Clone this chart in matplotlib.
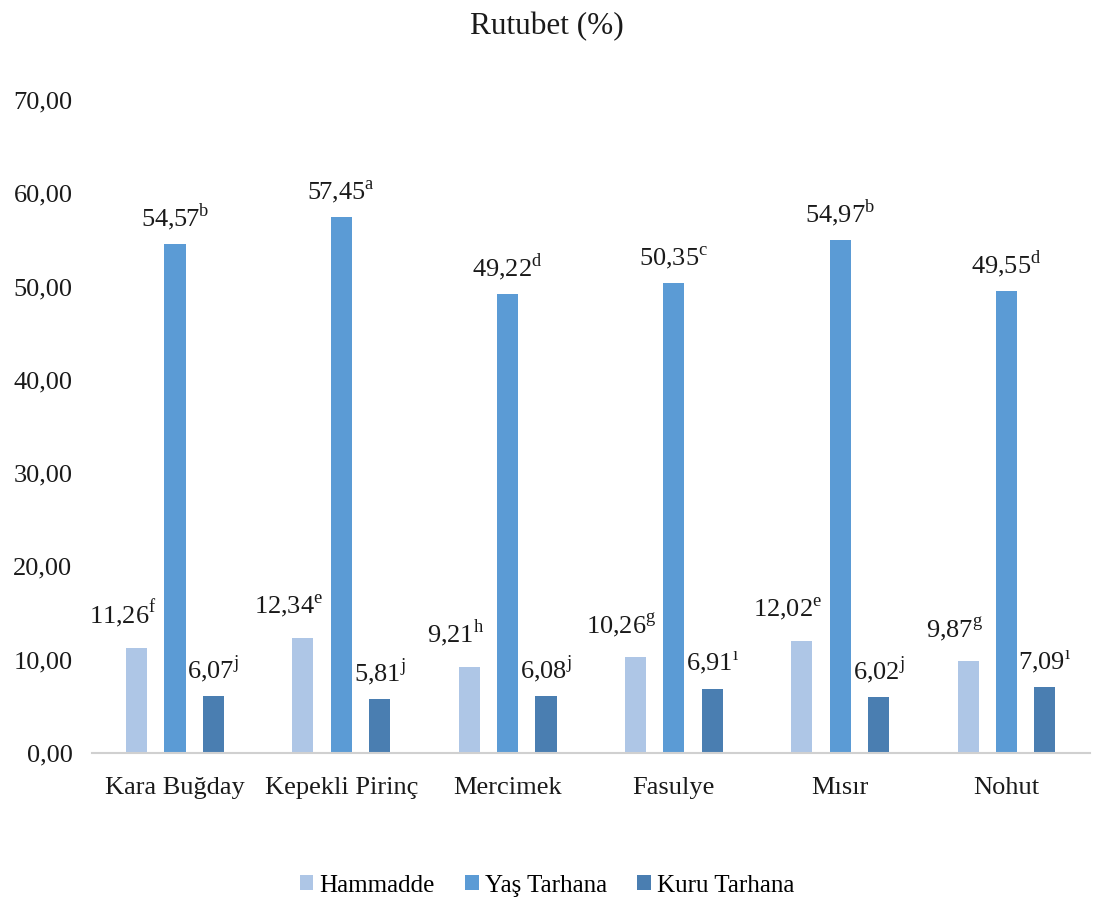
import matplotlib.pyplot as plt
import numpy as np

plt.rcParams['font.family'] = ['Liberation Serif', 'DejaVu Serif']
plt.rcParams['mathtext.fontset'] = 'custom'
plt.rcParams['mathtext.rm'] = 'Liberation Serif'

categories = ['Kara Buğday', 'Kepekli Pirinç', 'Mercimek', 'Fasulye', 'Mısır', 'Nohut']
series_names = ['Hammadde', 'Yaş Tarhana', 'Kuru Tarhana']
hammadde = [11.26, 12.34, 9.21, 10.26, 12.02, 9.87]
yas_tarhana = [54.57, 57.45, 49.22, 50.35, 54.97, 49.55]
kuru_tarhana = [6.07, 5.81, 6.08, 6.91, 6.02, 7.09]
hammadde_letters = ['f', 'e', 'h', 'g', 'e', 'g']
yas_letters = ['b', 'a', 'd', 'c', 'b', 'd']
kuru_letters = ['j', 'j', 'j', 'ı', 'j', 'ı']
yticks = [0, 10, 20, 30, 40, 50, 60, 70]

colors = ['#AEC6E6', '#5B9BD5', '#4A7EB1']
# label offsets (points) per series, keeping the first series' labels clear of the tall bars
label_offsets = [(-10, 13), (0, 8), (0, 8)]

fig = plt.figure(figsize=(10.94, 9.02), dpi=100)
ax = fig.add_axes([0.084, 0.1652, 0.912, 0.7239])

x = np.arange(len(categories))
width = 0.127
offset = 0.231
all_series = [hammadde, yas_tarhana, kuru_tarhana]
all_letters = [hammadde_letters, yas_letters, kuru_letters]

for i, (vals, letters, name) in enumerate(zip(all_series, all_letters, series_names)):
    pos = x + (i - 1) * offset
    ax.bar(pos, vals, width=width, color=colors[i], label=name)
    for px, v, let in zip(pos, vals, letters):
        txt = f"{v:.2f}".replace('.', ',') + r"$^{\mathrm{" + let + "}}$"
        ax.annotate(txt, (px, v), xytext=label_offsets[i], textcoords='offset points',
                    ha='center', va='bottom', fontsize=19, color='#1a1a1a')

ax.set_xlim(-0.5, len(categories) - 0.5)
ax.set_ylim(0, 70)
ax.set_yticks(yticks)
ax.set_yticklabels([f"{t:.2f}".replace('.', ',') for t in yticks])
ax.set_xticks(x)
ax.set_xticklabels(categories)
ax.tick_params(axis='both', length=0, labelsize=19, colors='#1a1a1a')
ax.tick_params(axis='y', pad=14)
ax.tick_params(axis='x', pad=17)
for s in ['top', 'right', 'left']:
    ax.spines[s].set_visible(False)
ax.spines['bottom'].set_color('#d0d0d0')
ax.spines['bottom'].set_linewidth(1.5)

fig.text(0.5, 0.971, 'Rutubet (%)', ha='center', va='center', fontsize=22.5, color='#1a1a1a')

fig.legend(loc='center', bbox_to_anchor=(0.5, 0.018), ncol=3, frameon=False,
           fontsize=18, handlelength=0.55, handleheight=0.55, handletextpad=0.25,
           columnspacing=1.2)

fig.savefig('out.png', dpi=100)
